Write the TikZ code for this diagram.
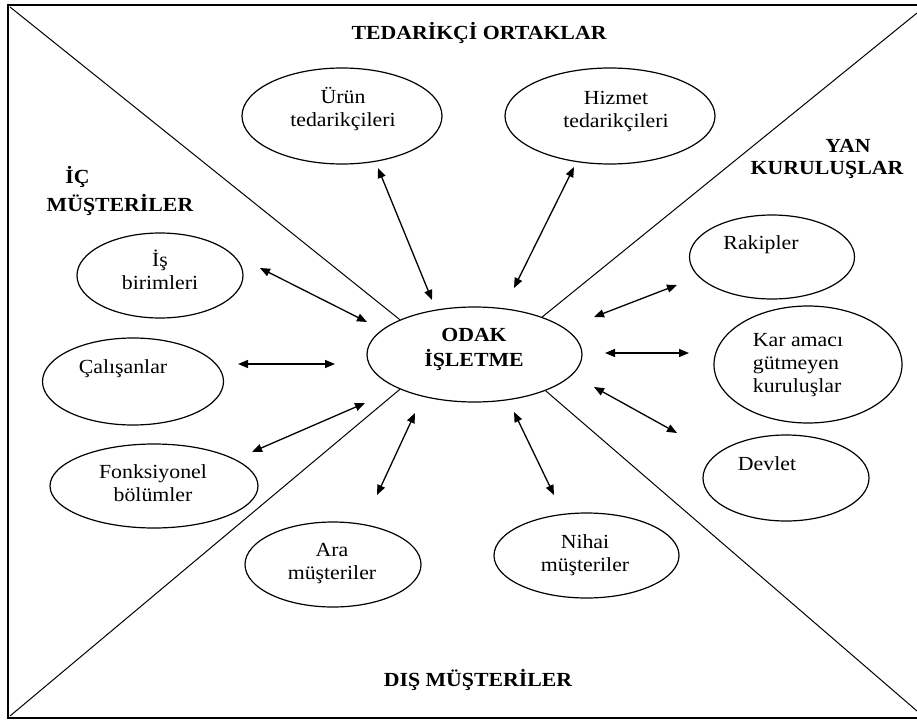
\documentclass[tikz,border=0pt]{standalone}
\usepackage{fontspec}
\setmainfont{Liberation Serif}[FakeStretch=1.09]
\usetikzlibrary{shapes.geometric,arrows.meta}

\tikzset{
  oval/.style={draw, ellipse, line width=1.2pt, inner sep=0pt},
  txt/.style={inner sep=0pt, align=center,
    font=\fontsize{20}{23}\selectfont},
  hdr/.style={inner sep=0pt, align=center,
    font=\fontsize{20}{23}\selectfont\bfseries},
  link/.style={line width=1.3pt,
    {Triangle[length=10pt,width=8pt]}-{Triangle[length=10pt,width=8pt]}},
  divider/.style={line width=1pt},
}

\begin{document}
\begin{tikzpicture}[x=1pt,y=-1pt]
\useasboundingbox (0,0) rectangle (917,722);

% outer frame (right edge lies outside the page)
\draw[line width=1.2pt] (917,5) -- (8,5) -- (8,718) -- (917,718);

% central ellipse
\node[oval, minimum width=215pt, minimum height=95pt] (odak) at (474.5,354.5) {};
\node[hdr] (odakT) at (474,349.4) {\strut ODAK\\\strut İŞLETME};

% quadrant dividers from the corners to the central ellipse
\coordinate (ctl) at (10,7);
\coordinate (ctr) at (917,13);
\coordinate (cbl) at (10,716);
\coordinate (cbr) at (917,711);
\draw[divider] (ctl) -- (odak.155);
\draw[divider] (ctr) -- (odak.29);
\draw[divider] (cbl) -- (odak.205);
\draw[divider] (cbr) -- (odak.333);

% quadrant titles
\node[hdr] (tedT) at (479,33.4) {TEDARİKÇİ ORTAKLAR};
\node[hdr] (icT1) at (77.5,177.4) {İÇ};
\node[hdr] (icT2) at (120,205.4) {MÜŞTERİLER};
\node[hdr] (yanT1) at (848,145.4) {YAN};
\node[hdr] (yanT2) at (827,170.4) {KURULUŞLAR};
\node[hdr] (disT) at (478,680.4) {DIŞ MÜŞTERİLER};

% stakeholder ellipses
\node[oval, minimum width=200pt, minimum height=96pt] (urun) at (342,116) {};
\node[oval, minimum width=210pt, minimum height=96pt] (hizmet) at (610,116) {};
\node[oval, minimum width=166pt, minimum height=85pt] (isb) at (160,275.5) {};
\node[oval, minimum width=181pt, minimum height=87pt] (cal) at (133,381.5) {};
\node[oval, minimum width=208pt, minimum height=84pt] (fonk) at (154,486) {};
\node[oval, minimum width=176pt, minimum height=85pt] (ara) at (333,564.5) {};
\node[oval, minimum width=185pt, minimum height=85pt] (nihai) at (586.5,555.5) {};
\node[oval, minimum width=165pt, minimum height=84pt] (rak) at (772,257) {};
\node[oval, minimum width=188pt, minimum height=117pt] (kar) at (808,364.5) {};
\node[oval, minimum width=166pt, minimum height=86pt] (devlet) at (786,478) {};

% ellipse labels
\node[txt] (urunT) at (343,109.9) {\strut Ürün\\\strut tedarikçileri};
\node[txt] (hizT) at (616,111.4) {\strut Hizmet\\\strut tedarikçileri};
\node[txt] (isbT) at (160,273.4) {\strut İş\\\strut birimleri};
\node[txt] (calT) at (123,368.4) {\strut Çalışanlar};
\node[txt] (fonkT) at (153,485.4) {\strut Fonksiyonel\\\strut bölümler};
\node[txt] (araT) at (332,563.4) {\strut Ara\\\strut müşteriler};
\node[txt] (nihT) at (585,554.9) {\strut Nihai\\\strut müşteriler};
\node[txt] (rakT) at (761,244.4) {\strut Rakipler};
\node[txt, align=left] (karT) at (798,364.4) {\strut Kar amacı\\\strut gütmeyen\\\strut kuruluşlar};
\node[txt] (devT) at (767,465.4) {\strut Devlet};

% arrow end points
\coordinate (urunA) at (378,168);   \coordinate (urunB) at (432,300);
\coordinate (hizA) at (574,167);    \coordinate (hizB) at (514,288);
\coordinate (isbA) at (260,268);    \coordinate (isbB) at (367,322);
\coordinate (calA) at (238,364);    \coordinate (calB) at (335,364);
\coordinate (fonkA) at (252,452);   \coordinate (fonkB) at (365,403);
\coordinate (araA) at (377,495);    \coordinate (araB) at (415,413);
\coordinate (nihA) at (554,495);    \coordinate (nihB) at (514,412);
\coordinate (rakA) at (677,285);    \coordinate (rakB) at (594,317);
\coordinate (karA) at (689,353);    \coordinate (karB) at (605,353);
\coordinate (devA) at (677,433);    \coordinate (devB) at (594,387);

% two-way relations
\draw[link] (urunA) -- (urunB);
\draw[link] (hizA) -- (hizB);
\draw[link] (isbA) -- (isbB);
\draw[link] (calA) -- (calB);
\draw[link] (fonkA) -- (fonkB);
\draw[link] (araA) -- (araB);
\draw[link] (nihA) -- (nihB);
\draw[link] (rakA) -- (rakB);
\draw[link] (karA) -- (karB);
\draw[link] (devA) -- (devB);
\end{tikzpicture}
\end{document}
